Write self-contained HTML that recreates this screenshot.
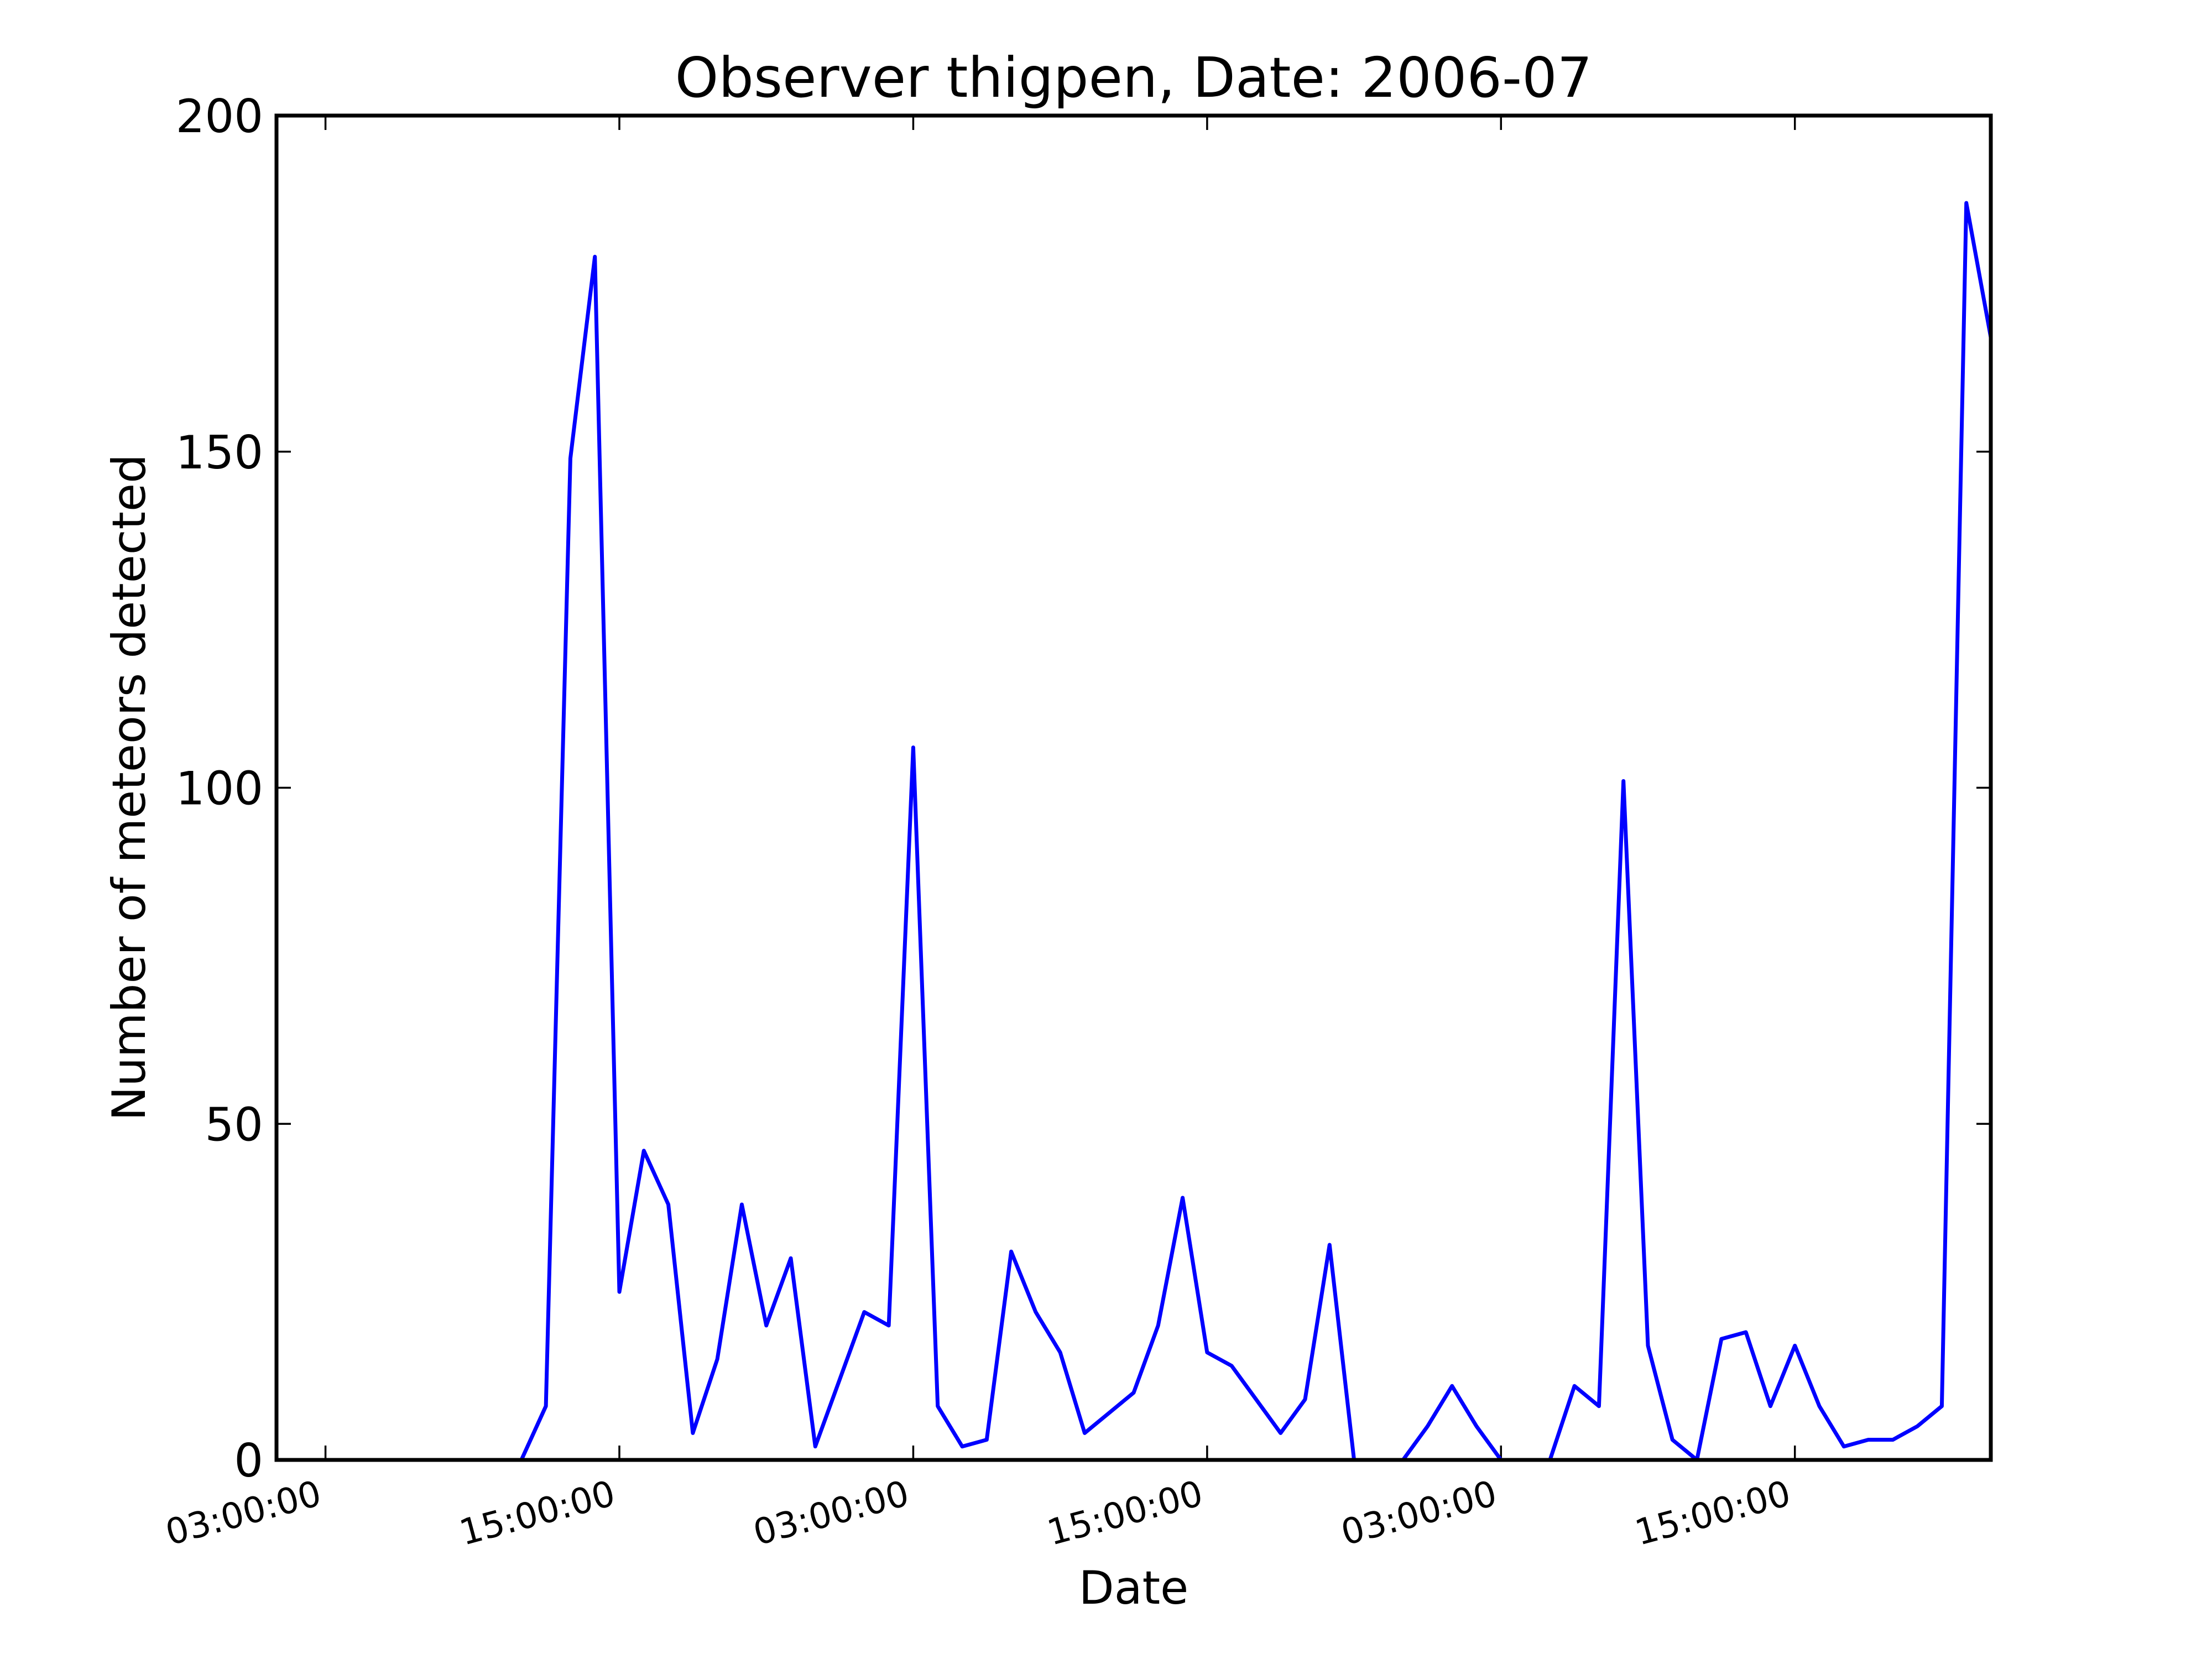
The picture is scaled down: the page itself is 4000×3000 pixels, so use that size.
<!DOCTYPE html>
<html><head><meta charset="utf-8"><style>
html,body{margin:0;padding:0;background:#fff}
svg{display:block}
text{font-family:"DejaVu Sans","Liberation Sans",sans-serif;fill:#000}
</style></head><body>
<svg id="chart" width="4000" height="3000" viewBox="0 0 4000 3000" xmlns="http://www.w3.org/2000/svg">
<rect width="4000" height="3000" fill="#fff"/>
<text x="2050" y="175" font-size="100" text-anchor="middle">Observer thigpen, Date: 2006-07</text>
<text x="2050" y="2900" font-size="83" text-anchor="middle">Date</text>
<text transform="translate(262,1424) rotate(-90)" font-size="83" text-anchor="middle">Number of meteors detected</text>
<g id="ticks"></g>
<polyline id="series" fill="none" stroke="#0000ff" stroke-width="7" stroke-linejoin="round"/>
<rect x="500" y="209" width="3100" height="2431" fill="none" stroke="#000" stroke-width="7"/>
</svg>
<script>
const hours = [1,2,3,4,5,6,7,8,9,10,11,12,13,14,15,16,17,18,19,20,21,22,23,24,25,26,27,28,29,30,31,32,33,34,35,36,37,38,39,40,41,42,43,44,45,46,47,48,49,50,51,52,53,54,55,56,57,58,59,60,61,62,63,64,65,66,67,68,69,70,71];
const counts = [0,0,0,0,0,0,0,0,0,0,0,8,149,179,25,46,38,4,15,38,20,30,2,12,22,20,106,8,2,3,31,22,16,4,7,10,20,39,16,14,9,4,9,32,0,0,0,5,11,5,0,0,0,11,8,101,17,3,0,18,19,8,17,8,2,3,3,5,8,187,167];
const xTickHours = [3,15,27,39,51,63];
const xTickLabels = ["03:00:00","15:00:00","03:00:00","15:00:00","03:00:00","15:00:00"];
const yTicks = [0,50,100,150,200];

const L=500,R=3600,T=209,B=2640;
const X0=1,X1=71,Y0=0,Y1=200;
const sx=h=>L+(h-X0)/(X1-X0)*(R-L);
const sy=v=>B-(v-Y0)/(Y1-Y0)*(B-T);
const NS="http://www.w3.org/2000/svg";
const g=document.getElementById('ticks');
function mk(tag,attrs){const e=document.createElementNS(NS,tag);for(const k in attrs)e.setAttribute(k,attrs[k]);return e;}

xTickHours.forEach((h,i)=>{
  const x=sx(h);
  const t1=mk('line',{x1:x,x2:x,y1:B,y2:B-26,stroke:'#000','stroke-width':3.5});
  
  
  g.appendChild(t1);
  const t2=mk('line',{x1:x,x2:x,y1:T,y2:T+26,stroke:'#000','stroke-width':3.5});
  
  
  g.appendChild(t2);
  const lb=mk('text',{'font-size':64,'text-anchor':'end',transform:`translate(${x-4},${B+80}) rotate(-15)`});
  lb.textContent=xTickLabels[i];
  
  
  g.appendChild(lb);
});
yTicks.forEach(v=>{
  const y=sy(v);
  const t1=mk('line',{x1:L,x2:L+26,y1:y,y2:y,stroke:'#000','stroke-width':3.5});
  
  
  g.appendChild(t1);
  const t2=mk('line',{x1:R,x2:R-26,y1:y,y2:y,stroke:'#000','stroke-width':3.5});
  
  
  g.appendChild(t2);
  const lb=mk('text',{x:L-24,y:y+30,'font-size':83,'text-anchor':'end'});
  lb.textContent=String(v);
  
  
  g.appendChild(lb);
});
document.getElementById('series').setAttribute('points',hours.map((h,i)=>sx(h)+','+sy(counts[i])).join(' '));
</script>
</body></html>
